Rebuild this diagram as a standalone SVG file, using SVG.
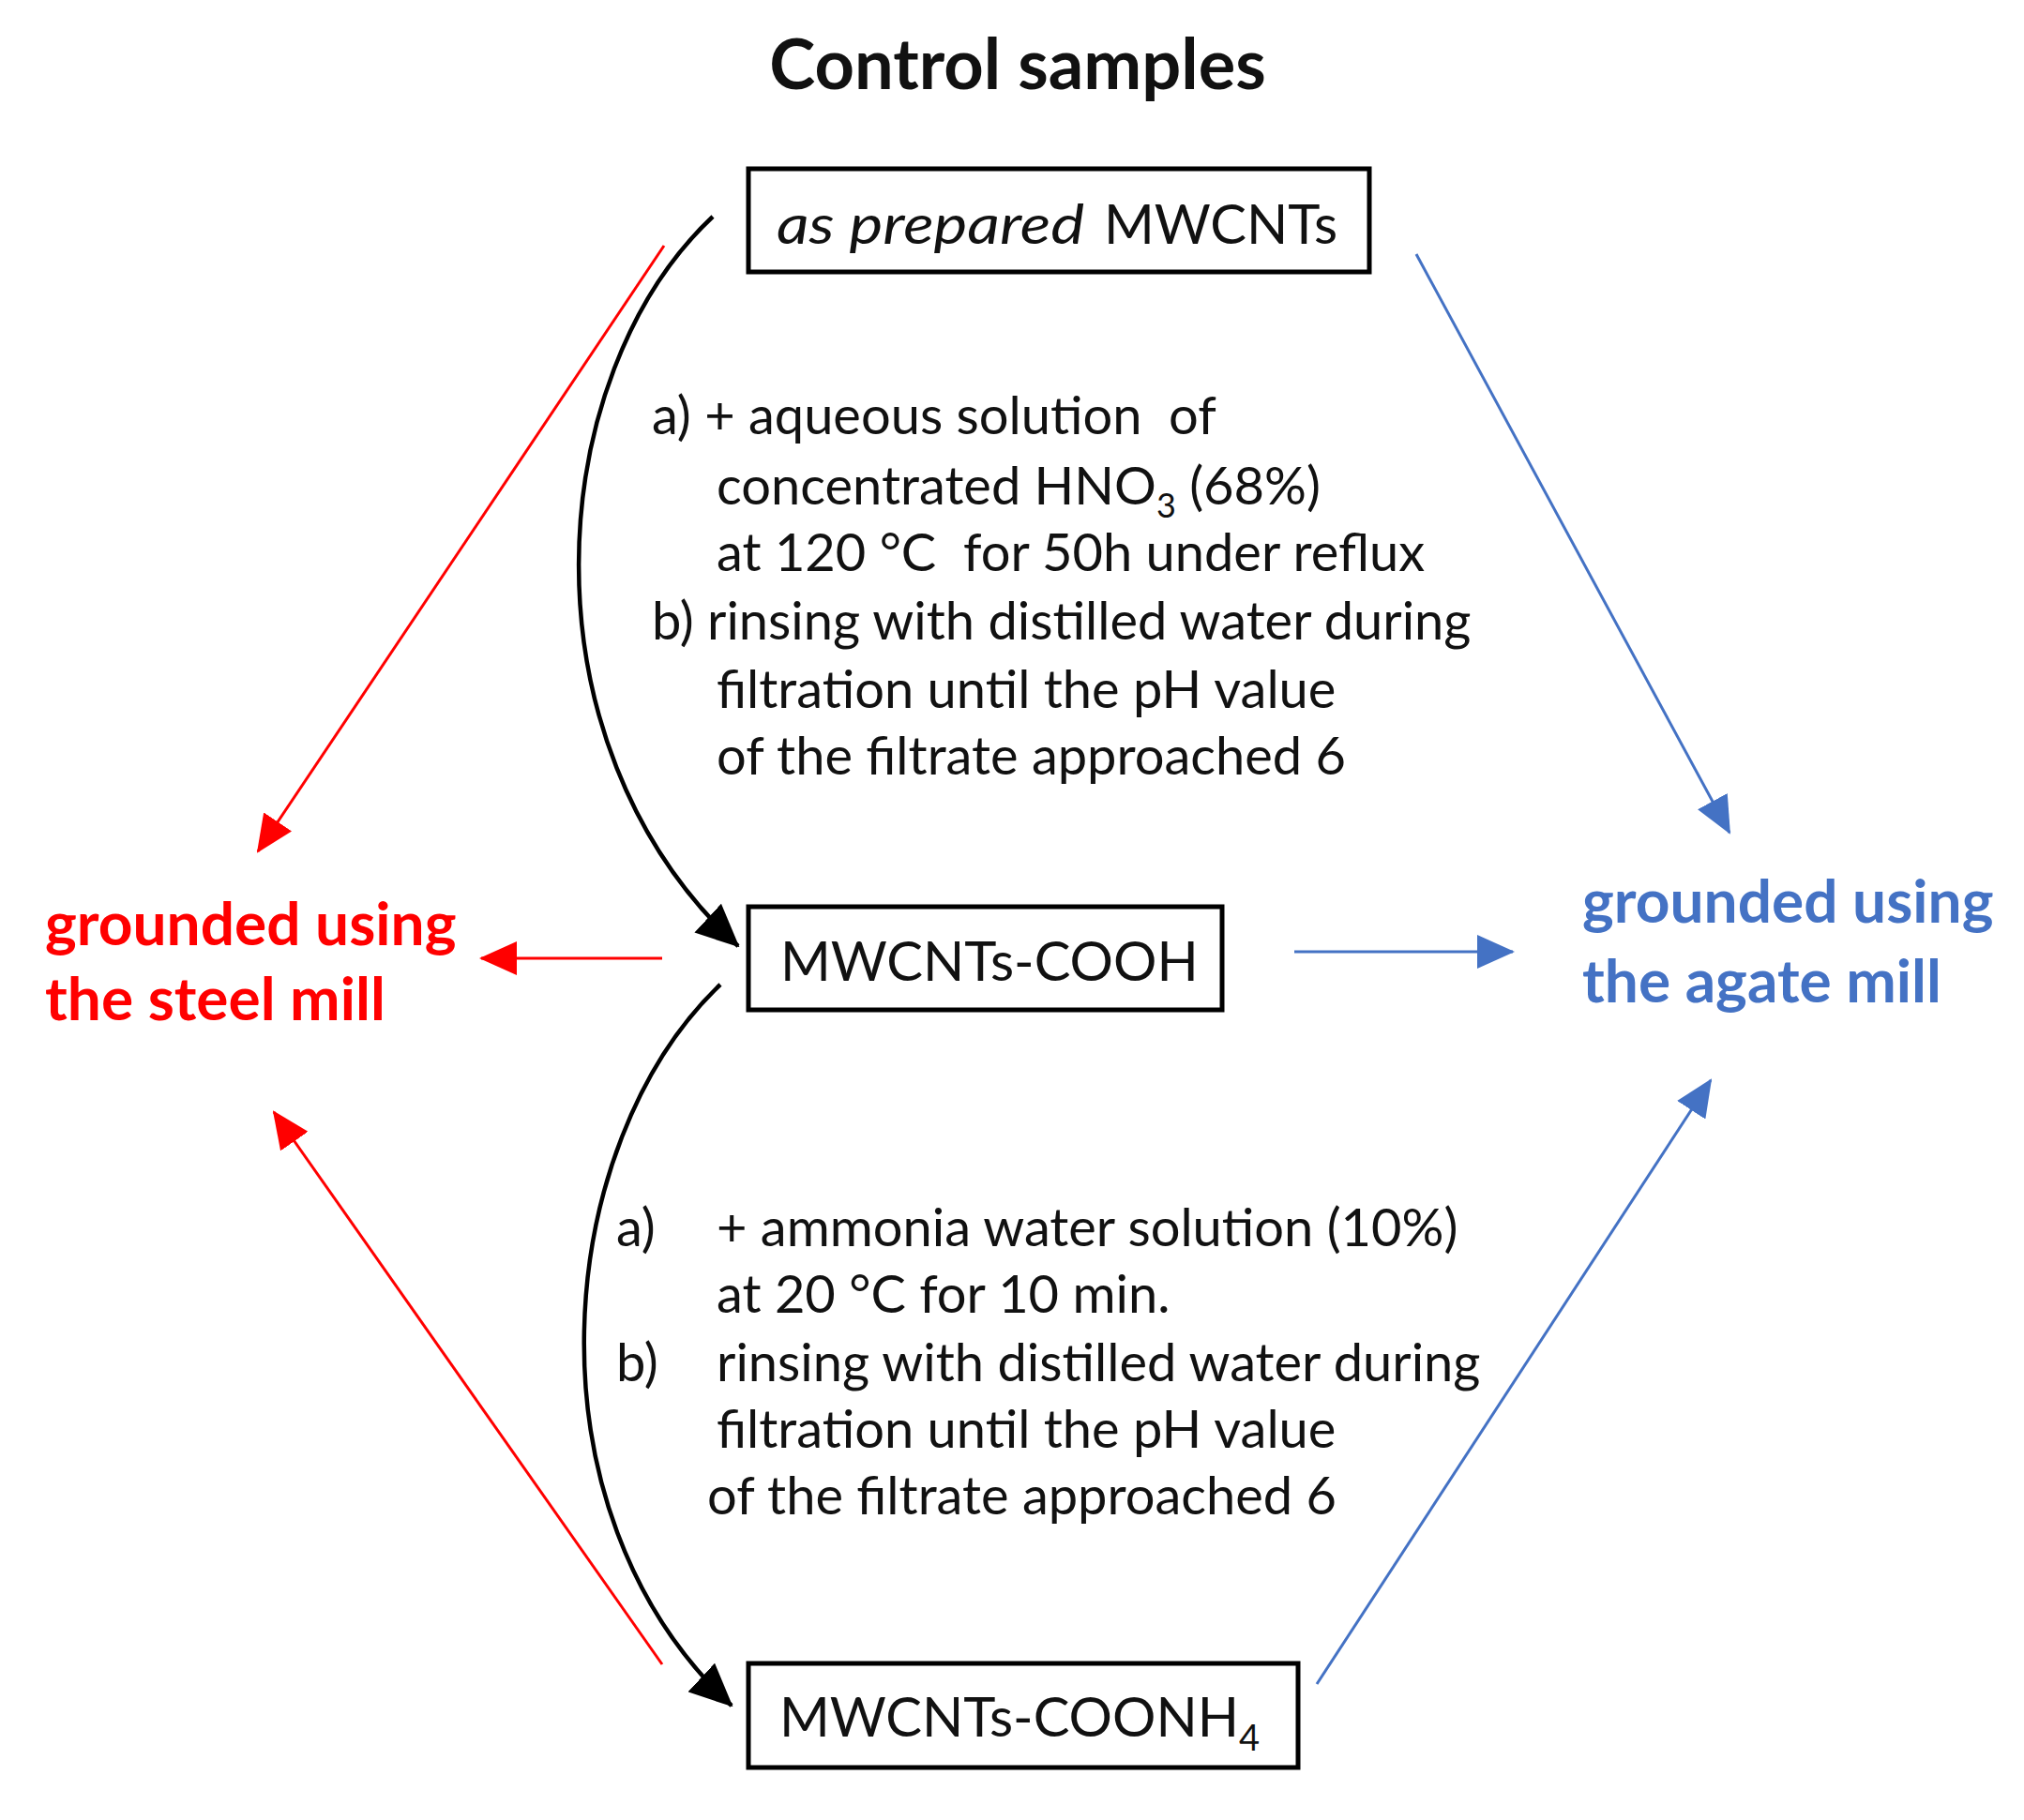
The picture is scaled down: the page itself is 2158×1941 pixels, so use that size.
<svg xmlns="http://www.w3.org/2000/svg" width="2158" height="1941" viewBox="0 0 2158 1941">
<defs>
<style>
.t{font-family:Lato,"Open Sans","Liberation Sans",sans-serif;fill:#111}
.body{font-size:56px}
.box{fill:#fff;stroke:#000;stroke-width:5}
.bt{font-size:58px}
.lbl{font-family:Lato,"Open Sans","Liberation Sans",sans-serif;font-weight:bold;font-size:64px}
.red{stroke:#FF0000;stroke-width:3;fill:none}
.blue{stroke:#4472C4;stroke-width:3;fill:none}
.blk{stroke:#000;stroke-width:4.5;fill:none}
</style>
<marker id="ar" markerUnits="userSpaceOnUse" viewBox="0 0 40 36" markerWidth="40" markerHeight="36" refX="38" refY="18" orient="auto"><path d="M0,0 L40,18 L0,36 z" fill="#FF0000"/></marker>
<marker id="ab" markerUnits="userSpaceOnUse" viewBox="0 0 40 36" markerWidth="40" markerHeight="36" refX="38" refY="18" orient="auto"><path d="M0,0 L40,18 L0,36 z" fill="#4472C4"/></marker>
<marker id="ak" markerUnits="userSpaceOnUse" viewBox="0 0 46 42" markerWidth="46" markerHeight="42" refX="44" refY="21" orient="auto"><path d="M0,0 L46,21 L0,42 z" fill="#000"/></marker>
</defs>
<rect width="2158" height="1941" fill="#fff"/>

<text class="t" x="1085" y="95" text-anchor="middle" font-weight="bold" font-size="74">Control samples</text>

<g id="connectors">
<path class="blk" d="M760,231 C580,400 550,790 787,1009" marker-end="url(#ak)"/>
<path class="blk" d="M768,1050 C590,1220 555,1610 780,1819" marker-end="url(#ak)"/>
<line class="red" x1="708" y1="262" x2="275" y2="908" marker-end="url(#ar)"/>
<line class="red" x1="706" y1="1022" x2="513" y2="1022" marker-end="url(#ar)"/>
<line class="red" x1="706" y1="1775" x2="292" y2="1186" marker-end="url(#ar)"/>
<line class="blue" x1="1510" y1="271" x2="1844" y2="888" marker-end="url(#ab)"/>
<line class="blue" x1="1380" y1="1015" x2="1613" y2="1015" marker-end="url(#ab)"/>
<line class="blue" x1="1404" y1="1796" x2="1824" y2="1152" marker-end="url(#ab)"/>
</g>

<g id="node-prepared">
<rect class="box" x="798" y="180" width="662" height="110"/>
<text class="t bt" x="828" y="260"><tspan font-style="italic" textLength="328" lengthAdjust="spacingAndGlyphs">as prepared</tspan><tspan x="1177">MWCNTs</tspan></text>
</g>

<g id="node-cooh">
<rect class="box" x="798" y="967" width="505" height="110"/>
<text class="t bt" x="832" y="1046">MWCNTs-COOH</text>
</g>

<g id="node-coonh4">
<rect class="box" x="798" y="1774" width="586" height="111"/>
<text class="t bt" x="831" y="1852">MWCNTs-COONH<tspan font-size="38" dy="15">4</tspan></text>
</g>

<g id="node-steel">
<text class="lbl" fill="#FF0000" x="48" y="1008">grounded using</text>
<text class="lbl" fill="#FF0000" x="48" y="1088">the steel mill</text>
</g>

<g id="node-agate">
<text class="lbl" fill="#4472C4" x="1687" y="984">grounded using</text>
<text class="lbl" fill="#4472C4" x="1687" y="1069">the agate mill</text>
</g>

<g id="label-oxidation">
<text class="t body" x="695" y="463" xml:space="preserve">a) + aqueous solution  of</text>
<text class="t body" x="764" y="538">concentrated HNO<tspan font-size="36" dy="14">3</tspan><tspan dy="-14"> (68%)</tspan></text>
<text class="t body" x="764" y="609" xml:space="preserve">at 120 °C  for 50h under reflux</text>
<text class="t body" x="695" y="682">b) rinsing with distilled water during</text>
<text class="t body" x="764" y="755">filtration until the pH value</text>
<text class="t body" x="764" y="826">of the filtrate approached 6</text>
</g>

<g id="label-ammonia">
<text class="t body" x="657" y="1329">a)</text>
<text class="t body" x="764" y="1329">+ ammonia water solution (10%)</text>
<text class="t body" x="764" y="1400">at 20 °C for 10 min.</text>
<text class="t body" x="657" y="1473">b)</text>
<text class="t body" x="764" y="1473">rinsing with distilled water during</text>
<text class="t body" x="764" y="1544">filtration until the pH value</text>
<text class="t body" x="754" y="1615">of the filtrate approached 6</text>
</g>
</svg>
